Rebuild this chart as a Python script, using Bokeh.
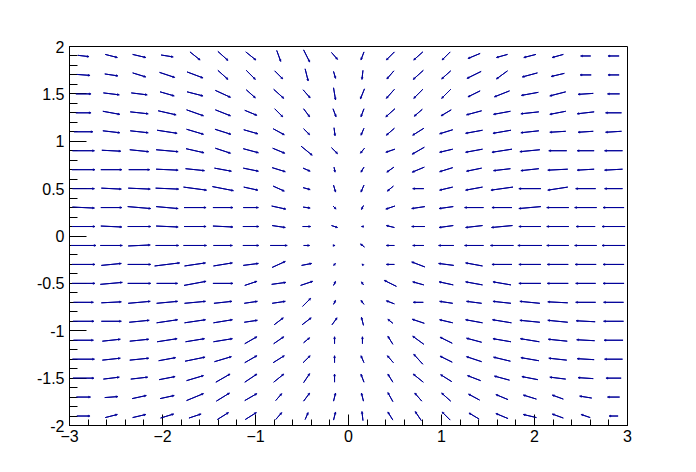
from bokeh.plotting import figure
from bokeh.models import ColumnDataSource, Arrow, NormalHead, FixedTicker, Range1d
from bokeh.embed import file_html
from bokeh.resources import INLINE

# bin centres of the 20 x 20 histogram
x_centers = [-2.85, -2.55, -2.25, -1.95, -1.65, -1.35, -1.05, -0.75, -0.45, -0.15,
             0.15, 0.45, 0.75, 1.05, 1.35, 1.65, 1.95, 2.25, 2.55, 2.85]
y_centers = [1.9, 1.7, 1.5, 1.3, 1.1, 0.9, 0.7, 0.5, 0.3, 0.1,
             -0.1, -0.3, -0.5, -0.7, -0.9, -1.1, -1.3, -1.5, -1.7, -1.9]

# outward field (negative gradient of the bin contents), one list per row, top row first
gx_r00 = [-44, -48, -52, -48, -40, -40, -40, -16, -24, -24, 12, 32, 36, 32, 48, 44, 48, 44, 40, 44]
gy_r00 = [8, 19, 19, 12, 50, 56, 50, 68, 75, 43, 50, 50, 50, 50, 31, 19, 19, 19, 0, 0]
gx_r01 = [-52, -52, -52, -60, -63, -40, -36, -32, -12, -8, 4, 28, 40, 36, 56, 44, 60, 52, 44, 44]
gy_r01 = [6, 12, 25, 31, 37, 56, 56, 50, 75, 43, 56, 50, 56, 50, 43, 50, 25, 19, 0, 0]
gx_r02 = [-60, -63, -63, -56, -63, -60, -36, -40, -28, -8, 16, 32, 36, 36, 48, 60, 67, 63, 60, 48]
gy_r02 = [0, 12, 12, 25, 25, 43, 50, 56, 50, 75, 62, 56, 56, 56, 37, 37, 19, 25, 6, 0]
gx_r03 = [-60, -67, -71, -71, -67, -60, -48, -32, -24, -12, 12, 36, 32, 40, 60, 67, 71, 63, 67, 63]
gy_r03 = [0, 19, 12, 25, 37, 37, 31, 50, 50, 50, 50, 50, 43, 37, 25, 19, 12, 19, 12, 0]
gx_r04 = [-75, -67, -71, -79, -67, -63, -56, -44, -24, -4, 12, 32, 44, 52, 67, 71, 71, 63, 60, 63]
gy_r04 = [0, 12, 12, 19, 31, 31, 25, 37, 37, 50, 43, 43, 43, 25, 19, 19, 12, 6, 6, 6]
gx_r05 = [-87, -75, -75, -87, -71, -60, -60, -48, -44, -24, 16, 36, 48, 52, 67, 79, 79, 71, 67, 71]
gy_r05 = [0, 6, 12, 12, 25, 31, 25, 31, 56, 37, 31, 19, 43, 19, 19, 19, 12, 0, 0, 0]
gx_r06 = [-91, -83, -83, -87, -75, -67, -60, -52, -28, -4, 12, 28, 48, 52, 60, 67, 71, 79, 67, 71]
gy_r06 = [0, 0, 0, 6, 12, 19, 19, 25, 19, 31, 31, 31, 31, 25, 19, 12, 12, 6, 6, 6]
gx_r07 = [-87, -79, -87, -91, -91, -83, -56, -44, -28, -8, 12, 24, 44, 52, 67, 87, 87, 79, 79, 71]
gy_r07 = [0, 6, 6, 6, 19, 25, 19, 31, 12, 43, 43, 31, 0, 19, 19, 19, 0, 19, 0, 0]
gx_r08 = [-87, -83, -91, -87, -87, -79, -60, -56, -28, -12, 8, 36, 52, 56, 75, 79, 87, 87, 87, 83]
gy_r08 = [6, 0, 12, 12, 0, 0, 0, 19, 6, 19, 25, 19, 12, 12, 0, 0, 12, 0, 0, 0]
gx_r09 = [-91, -83, -91, -87, -87, -79, -63, -52, -32, -24, 8, 32, 52, 56, 67, 83, 87, 87, 75, 91]
gy_r09 = [0, 6, 0, 6, 0, 6, 0, 12, 0, 12, 0, -12, 0, 12, 12, 12, 0, 0, 0, 0]
gx_r10 = [-99, -87, -87, -91, -91, -75, -63, -67, -24, -4, 16, 32, 44, 60, 75, 91, 95, 87, 87, 91]
gy_r10 = [0, 0, -6, 0, 0, 0, 0, 0, 0, 0, -19, 0, 0, 0, 0, 0, 0, 0, 0, 0]
gx_r11 = [-91, -79, -91, -99, -83, -75, -60, -52, -40, -8, 4, 32, 52, 60, 67, 79, 87, 83, 83, 83]
gy_r11 = [0, -12, 0, -19, -19, -19, -12, -37, -12, -12, -6, 0, -31, -12, -19, 0, 0, 0, 0, 0]
gx_r12 = [-91, -87, -91, -83, -87, -79, -48, -56, -48, -8, 8, 48, 44, 56, 67, 71, 87, 83, 79, 83]
gy_r12 = [0, -12, 0, 0, -25, 0, -25, -12, -25, -25, -19, -37, -19, -19, -19, -19, 0, 0, 0, 0]
gx_r13 = [-79, -79, -87, -83, -83, -71, -52, -52, -32, -8, 12, 32, 40, 52, 60, 71, 79, 79, 79, 79]
gy_r13 = [0, -6, -12, -12, -12, -12, -12, -12, -50, -25, -25, -19, 0, -12, -12, -12, -12, -6, 0, 0]
gx_r14 = [-83, -79, -79, -83, -83, -75, -52, -36, -36, -20, 8, 20, 48, 52, 67, 75, 79, 79, 75, 79]
gy_r14 = [0, 0, -12, -19, -19, -19, -12, -43, -43, -43, -50, -25, -25, -19, -19, -19, -12, -12, -6, 0]
gx_r15 = [-79, -71, -75, -79, -75, -75, -48, -40, -24, 0, 0, 20, 44, 48, 60, 71, 75, 75, 71, 75]
gy_r15 = [0, -12, -12, -19, -19, -19, -43, -43, -31, -43, -43, -50, -50, -37, -25, -19, -19, -12, -6, 0]
gx_r16 = [-87, -71, -75, -67, -79, -67, -48, -44, -28, 0, 12, 24, 36, 48, 60, 67, 71, 71, 67, 71]
gy_r16 = [0, -12, -12, -19, -25, -31, -43, -43, -43, -43, -43, -43, -62, -37, -31, -25, -19, -12, -6, 0]
gx_r17 = [-83, -63, -67, -63, -67, -56, -48, -40, -24, 0, 12, 20, 40, 44, 52, 60, 63, 63, 60, 60]
gy_r17 = [0, -12, -12, -19, -31, -50, -50, -50, -56, -50, -50, -50, -50, -43, -31, -25, -19, -12, -6, 0]
gx_r18 = [-56, -52, -56, -56, -67, -52, -48, -24, -24, -8, 8, 20, 28, 36, 44, 48, 52, 44, 48, 48]
gy_r18 = [0, -6, -19, -19, -43, -50, -43, -43, -50, -50, -50, -56, -50, -50, -37, -31, -25, -25, -12, 0]
gx_r19 = [-52, -48, -52, -52, -48, -44, -44, -24, -12, -8, 4, 20, 24, 32, 40, 48, 52, 44, 36, 36]
gy_r19 = [0, -19, -19, -25, -25, -43, -43, -43, -43, -50, -56, -50, -56, -50, -37, -31, -19, -25, -19, 0]

x_ticks = [-3, -2, -1, 0, 1, 2, 3]
y_ticks = [-2, -1.5, -1, -0.5, 0, 0.5, 1, 1.5, 2]
y_tick_labels = {-2: "-2", -1.5: "-1.5", -1: "-1", -0.5: "-0.5", 0: "0",
                 0.5: "0.5", 1: "1", 1.5: "1.5", 2: "2"}

gx_rows = [gx_r00, gx_r01, gx_r02, gx_r03, gx_r04, gx_r05, gx_r06, gx_r07, gx_r08, gx_r09,
           gx_r10, gx_r11, gx_r12, gx_r13, gx_r14, gx_r15, gx_r16, gx_r17, gx_r18, gx_r19]
gy_rows = [gy_r00, gy_r01, gy_r02, gy_r03, gy_r04, gy_r05, gy_r06, gy_r07, gy_r08, gy_r09,
           gy_r10, gy_r11, gy_r12, gy_r13, gy_r14, gy_r15, gy_r16, gy_r17, gy_r18, gy_r19]

# ROOT "ARR" geometry: half-cell minus margin, common normalisation
xmin, xmax, ymin, ymax = -3.0, 3.0, -2.0, 2.0
cx = ((xmax - xmin) / len(x_centers) - 0.03) / 2
cy = ((ymax - ymin) / len(y_centers) - 0.03) / 2
dn = max(max(abs(v) for r in gx_rows for v in r), max(abs(v) for r in gy_rows for v in r))

x0, y0, x1, y1 = [], [], [], []
for j, yc in enumerate(y_centers):
    for i, xc in enumerate(x_centers):
        hx = cx * gx_rows[j][i] / dn
        hy = cy * gy_rows[j][i] / dn
        x0.append(xc + hx)
        y0.append(yc + hy)
        x1.append(xc - hx)
        y1.append(yc - hy)

src = ColumnDataSource(dict(x0=x0, y0=y0, x1=x1, y1=y1))

p = figure(width=696, height=472, x_range=Range1d(xmin, xmax), y_range=Range1d(ymin, ymax),
           output_backend="svg", toolbar_location=None,
           min_border_left=69, min_border_right=69, min_border_top=46, min_border_bottom=47)
p.background_fill_color = "white"
p.border_fill_color = "white"
p.outline_line_color = "black"
p.outline_line_width = 1
p.outline_line_alpha = 1
p.xgrid.visible = False
p.ygrid.visible = False

col = "#000099"
p.segment(x0="x0", y0="y0", x1="x1", y1="y1", source=src, line_color=col, line_width=1)
p.add_layout(Arrow(end=NormalHead(size=2, line_color=col, fill_color=col, line_width=0.5),
                   x_start="x0", y_start="y0", x_end="x1", y_end="y1", source=src,
                   line_color=col, line_width=1))

xminor = [round(-3 + 0.2 * k, 2) for k in range(31)]
yminor = [round(-2 + 0.1 * k, 2) for k in range(41)]
p.xaxis.ticker = FixedTicker(ticks=x_ticks, minor_ticks=xminor)
p.yaxis.ticker = FixedTicker(ticks=y_ticks, minor_ticks=yminor)
p.yaxis.major_label_overrides = y_tick_labels

for ax in (p.xaxis[0], p.yaxis[0]):
    ax.axis_line_color = "black"
    ax.major_tick_line_color = "black"
    ax.minor_tick_line_color = "black"
    ax.major_tick_out = 0
    ax.minor_tick_out = 0
    ax.major_label_text_font = "Liberation Sans"
    ax.major_label_text_font_size = "16px"
    ax.major_label_text_color = "black"
p.xaxis.major_tick_in = 11
p.xaxis.minor_tick_in = 6
p.yaxis.major_tick_in = 17
p.yaxis.minor_tick_in = 8
p.xaxis.major_label_standoff = 4
p.yaxis.major_label_standoff = 5

open("out.html", "w").write(file_html(p, INLINE))
